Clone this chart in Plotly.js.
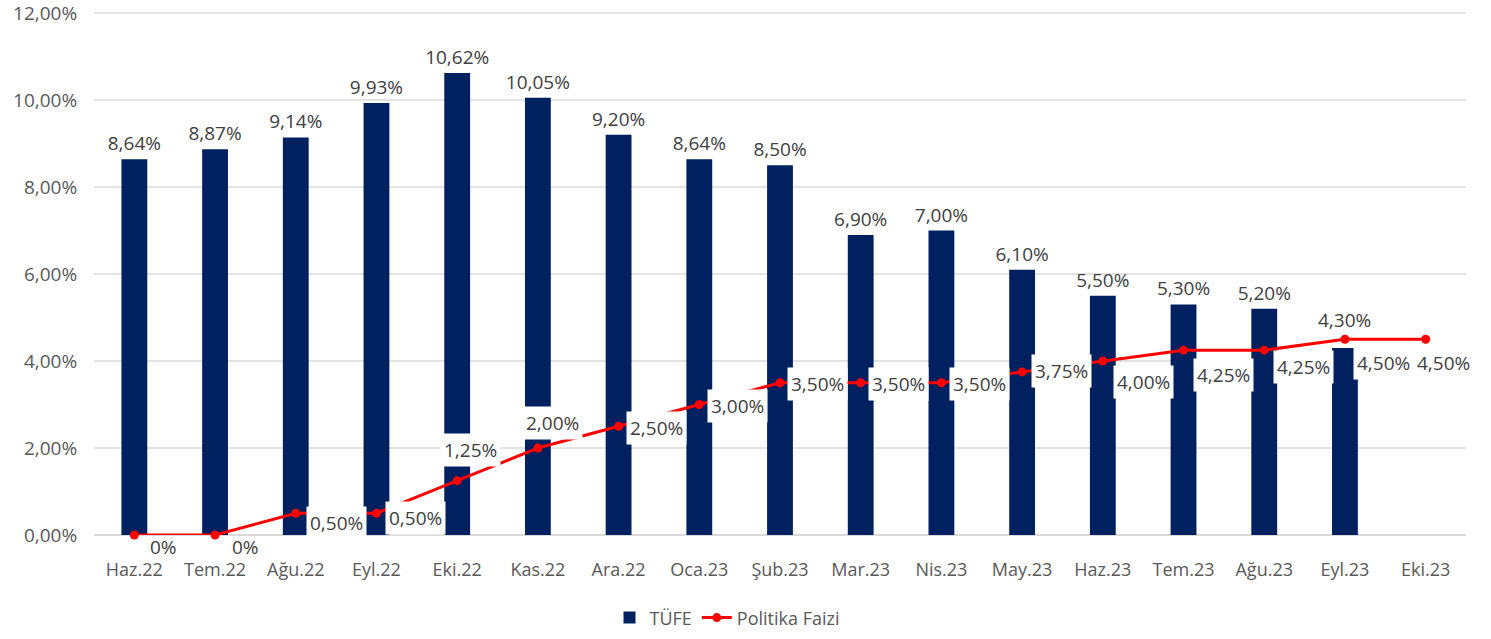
<!DOCTYPE html>
<html>
<head>
<meta charset="utf-8">
<script src="https://cdn.plot.ly/plotly-3.0.1.min.js"></script>
<style>html,body{margin:0;padding:0;background:#fff}#chart{width:1491px;height:639px}</style>
</head>
<body>
<div id="chart"></div>
<script>
const categories = ["Haz.22","Tem.22","Ağu.22","Eyl.22","Eki.22","Kas.22","Ara.22","Oca.23","Şub.23","Mar.23","Nis.23","May.23","Haz.23","Tem.23","Ağu.23","Eyl.23","Eki.23"];
const tufe = [0.0864,0.0887,0.0914,0.0993,0.1062,0.1005,0.0920,0.0864,0.0850,0.0690,0.0700,0.0610,0.0550,0.0530,0.0520,0.0430,null];
const politikaFaizi = [0,0,0.005,0.005,0.0125,0.02,0.025,0.03,0.035,0.035,0.035,0.0375,0.04,0.0425,0.0425,0.045,0.045];
const yTicks = [0,0.02,0.04,0.06,0.08,0.10,0.12];

// label offsets (px) for the line labels
const lblDx = [29,30,41,39,13,15,38,38,37,38,38,39,41,40,39,39,18];
const lblDy = [-12,-12,-10,-5,31,25,-2,-1,-1,-1,-1,1,-21,-25,-17,-24,-24];
// bar labels moved up (index -> extra px)
const barLiftIdx = 15, barLiftPx = 28;

function fmt(v){
  if (v === 0) return "0%";
  return (v*100).toFixed(2).replace(".", ",") + "%";
}

const font = "Open Sans, sans-serif";
const gray = "#595959";
const txt = "#404040";

const traces = [
  {
    type: "bar", name: "TÜFE", x: categories, y: tufe,
    marker: {color: "#002060"}, width: 0.32,
    text: tufe.map((v, i) => (v === null || i === barLiftIdx) ? "" : fmt(v)),
    textposition: "outside", cliponaxis: false, constraintext: "none",
    textfont: {family: font, size: 19, color: txt},
    hoverinfo: "x+y"
  },
  {
    type: "scatter", mode: "lines+markers", name: "Politika Faizi",
    x: categories, y: politikaFaizi,
    line: {color: "#ff0000", width: 3},
    marker: {color: "#ff0000", size: 9},
    cliponaxis: false
  }
];

const annotations = politikaFaizi.map((v, i) => ({
  xref: "x", yref: "y", x: categories[i], y: v,
  xshift: lblDx[i], yshift: lblDy[i],
  text: fmt(v), showarrow: false,
  bgcolor: v === 0 ? "rgba(0,0,0,0)" : "#ffffff", borderpad: 3,
  font: {family: font, size: 19, color: txt}
}));
annotations.push({
  xref: "x", yref: "y", x: categories[barLiftIdx], y: tufe[barLiftIdx],
  yshift: barLiftPx, text: fmt(tufe[barLiftIdx]), showarrow: false,
  font: {family: font, size: 19, color: txt}
});

const layout = {
  width: 1491, height: 639,
  margin: {l: 94, r: 25, t: 10, b: 104},
  paper_bgcolor: "#fff", plot_bgcolor: "#fff",
  separators: ",.",
  font: {family: font, color: gray},
  showlegend: true,
  legend: {orientation: "h", x: 0.4876, xanchor: "center", xref: "container",
           y: 0.033, yanchor: "middle", yref: "container",
           font: {family: font, size: 18, color: gray}, traceorder: "normal"},
  xaxis: {
    type: "category", range: [-0.5, 16.5], autorange: false,
    tickfont: {family: font, size: 18, color: gray},
    showgrid: false, showline: false, zeroline: false,
    ticks: "outside", ticklen: 18, tickcolor: "rgba(0,0,0,0)"
  },
  yaxis: {
    range: [0, 0.1207], autorange: false, tickvals: yTicks, tickformat: ".2%",
    tickfont: {family: font, size: 19, color: gray},
    showgrid: true, gridcolor: "#e3e3e3", gridwidth: 1.5,
    zeroline: true, zerolinecolor: "#d9d9d9", zerolinewidth: 1.5,
    ticks: "outside", ticklen: 12, tickcolor: "rgba(0,0,0,0)", fixedrange: true,
    automargin: false, ticklabeloverflow: "allow"
  },
  annotations: annotations
};

Plotly.newPlot("chart", traces, layout, {displayModeBar: false, staticPlot: true});
</script>
</body>
</html>
